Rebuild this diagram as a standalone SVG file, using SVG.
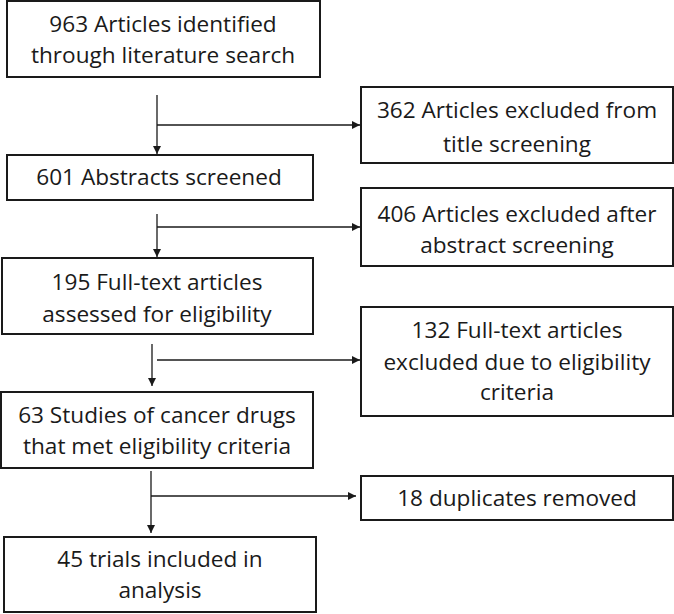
<svg xmlns="http://www.w3.org/2000/svg" width="674" height="614" viewBox="0 0 674 614">
<style>
.box{fill:#fff;stroke:#1a1a1a;stroke-width:2}
.t{font-family:"Open Sans","Liberation Sans",sans-serif;font-size:22.6px;fill:#1a1a1a;text-anchor:middle}
.c{fill:none;stroke:#1a1a1a;stroke-width:1.3}
</style>
<defs>
<marker id="ah" viewBox="0 0 8 8" refX="8" refY="4" markerWidth="8" markerHeight="8" markerUnits="userSpaceOnUse" orient="auto">
<path d="M0,0 L8,4 L0,8 Z" fill="#1a1a1a"/>
</marker>
</defs>
<rect width="674" height="614" fill="#fff"/>
<g id="n1"><rect class="box" x="7" y="1" width="313" height="76"/><text class="t" x="163" y="32">963 Articles identified</text><text class="t" x="163" y="63">through literature search</text></g>
<g id="n2"><rect class="box" x="7" y="155" width="306" height="45"/><text class="t" x="159" y="185">601 Abstracts screened</text></g>
<g id="n3"><rect class="box" x="2" y="258" width="311" height="76"/><text class="t" x="157" y="290">195 Full-text articles</text><text class="t" x="157" y="322">assessed for eligibility</text></g>
<g id="n4"><rect class="box" x="1" y="392" width="312" height="76"/><text class="t" x="157" y="423">63 Studies of cancer drugs</text><text class="t" x="157" y="454">that met eligibility criteria</text></g>
<g id="n5"><rect class="box" x="4" y="537" width="312" height="75"/><text class="t" x="160" y="567">45 trials included in</text><text class="t" x="160" y="598">analysis</text></g>
<g id="x1"><rect class="box" x="361" y="87" width="312" height="76"/><text class="t" x="517" y="118">362 Articles excluded from</text><text class="t" x="517" y="152">title screening</text></g>
<g id="x2"><rect class="box" x="361" y="188" width="312" height="78"/><text class="t" x="517" y="222">406 Articles excluded after</text><text class="t" x="517" y="253">abstract screening</text></g>
<g id="x3"><rect class="box" x="361" y="307" width="312" height="109"/><text class="t" x="517" y="338">132 Full-text articles</text><text class="t" x="517" y="370">excluded due to eligibility</text><text class="t" x="517" y="400">criteria</text></g>
<g id="x4"><rect class="box" x="361" y="476" width="312" height="44"/><text class="t" x="517" y="506">18 duplicates removed</text></g>
<g id="connectors">
<path class="c" d="M157,95 V154" marker-end="url(#ah)"/>
<path class="c" d="M157,125 H360" marker-end="url(#ah)"/>
<path class="c" d="M157,214 V257" marker-end="url(#ah)"/>
<path class="c" d="M157,227 H360" marker-end="url(#ah)"/>
<path class="c" d="M152,344 V386" marker-end="url(#ah)"/>
<path class="c" d="M157,360 H360" marker-end="url(#ah)"/>
<path class="c" d="M151,471 V533" marker-end="url(#ah)"/>
<path class="c" d="M151,496 H356" marker-end="url(#ah)"/>
</g>
</svg>
